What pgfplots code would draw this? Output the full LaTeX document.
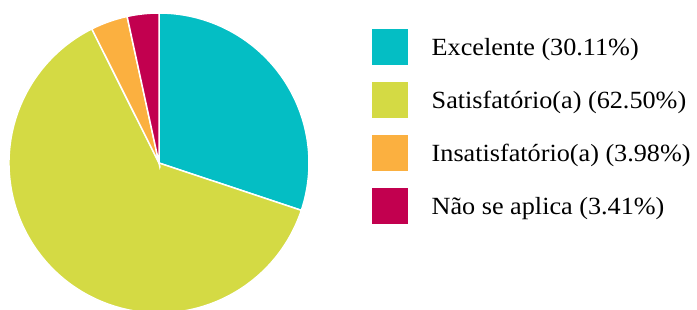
\documentclass[border=0pt]{standalone}
\usepackage{pgfplots}
\pgfplotsset{compat=1.18}
\usepackage{fontspec}
\setmainfont[FakeStretch=1.06]{Liberation Serif}
\definecolor{cA}{RGB}{4,190,196}
\definecolor{cB}{RGB}{212,218,68}
\definecolor{cC}{RGB}{251,176,64}
\definecolor{cD}{RGB}{194,0,79}
% slice values (percent)
\def\vA{30.11}\def\vB{62.50}\def\vC{3.98}\def\vD{3.41}
\begin{document}
\begin{tikzpicture}
\pgfmathsetmacro{\aO}{90}
\pgfmathsetmacro{\aA}{\aO-3.6*\vA}
\pgfmathsetmacro{\aB}{\aA-3.6*\vB}
\pgfmathsetmacro{\aC}{\aB-3.6*\vC}
\pgfmathsetmacro{\aD}{\aC-3.6*\vD}
\begin{axis}[
  name=ax,
  width=697bp, height=310bp, scale only axis,
  hide axis, xmin=0, xmax=697, ymin=0, ymax=310,
  clip=true,
]
\def\cx{159}\def\cy{147}
\filldraw[fill=cA, draw=white, line width=1.5bp] (axis cs:\cx,\cy) -- ([shift={(\aO:150bp)}]axis cs:\cx,\cy) arc[start angle=\aO, end angle=\aA, radius=150bp] -- cycle;
\filldraw[fill=cB, draw=white, line width=1.5bp] (axis cs:\cx,\cy) -- ([shift={(\aA:150bp)}]axis cs:\cx,\cy) arc[start angle=\aA, end angle=\aB, radius=150bp] -- cycle;
\filldraw[fill=cC, draw=white, line width=1.5bp] (axis cs:\cx,\cy) -- ([shift={(\aB:150bp)}]axis cs:\cx,\cy) arc[start angle=\aB, end angle=\aC, radius=150bp] -- cycle;
\filldraw[fill=cD, draw=white, line width=1.5bp] (axis cs:\cx,\cy) -- ([shift={(\aC:150bp)}]axis cs:\cx,\cy) arc[start angle=\aC, end angle=\aD, radius=150bp] -- cycle;
% legend
\fill[cA] (axis cs:372,245) rectangle (axis cs:408,281);
\fill[cB] (axis cs:372,192) rectangle (axis cs:408,228);
\fill[cC] (axis cs:372,139) rectangle (axis cs:408,175);
\fill[cD] (axis cs:372,86) rectangle (axis cs:408,122);
\node[anchor=base west, inner sep=0pt, font=\fontsize{24.8}{28}\selectfont] at (axis cs:431.5,254.5) {Excelente (30.11\%)};
\node[anchor=base west, inner sep=0pt, font=\fontsize{24.8}{28}\selectfont] at (axis cs:431.5,201.5) {Satisfatório(a) (62.50\%)};
\node[anchor=base west, inner sep=0pt, font=\fontsize{24.8}{28}\selectfont] at (axis cs:431.5,148.5) {Insatisfatório(a) (3.98\%)};
\node[anchor=base west, inner sep=0pt, font=\fontsize{24.8}{28}\selectfont] at (axis cs:431.5,95.5) {Não se aplica (3.41\%)};
\end{axis}
\pgfresetboundingbox
\path[use as bounding box] (ax.south west) rectangle (ax.north east);
\end{tikzpicture}
\end{document}
